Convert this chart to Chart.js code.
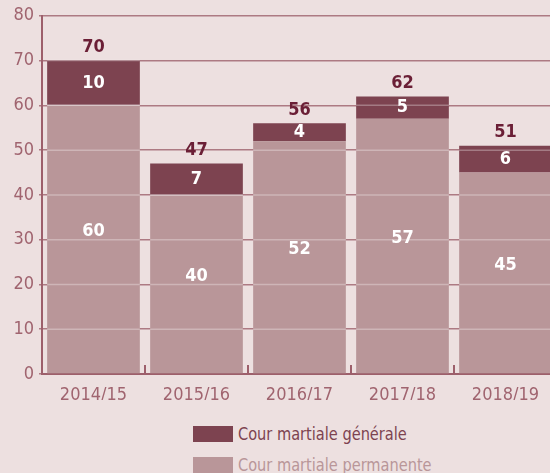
<!DOCTYPE html>
<html><head><meta charset="utf-8">
<script src="https://cdn.jsdelivr.net/npm/chart.js@4/dist/chart.umd.min.js"></script>
<style>
html,body{margin:0;padding:0;background:#ede0e0;width:550px;height:473px;overflow:hidden;}
#wrap{position:absolute;left:0;top:0;width:557px;height:400px;}
#legend{position:absolute;left:193px;top:418px;font-family:'DejaVu Sans Condensed','Liberation Sans Narrow',sans-serif;font-size:18px;}
.item{display:flex;align-items:center;height:31px;}
.sw{width:40px;height:16px;margin-right:5px;flex:none;}
.tx{display:inline-block;transform:scaleX(0.9);transform-origin:left center;white-space:nowrap;}
</style></head>
<body>
<div id="wrap"><canvas id="c"></canvas></div>
<div id="legend"></div>
<script>
const categories = ['2014/15','2015/16','2016/17','2017/18','2018/19'];
const permanente = [60, 40, 52, 57, 45];
const generale = [10, 7, 4, 5, 6];
const seriesNames = ['Cour martiale générale','Cour martiale permanente'];
const yTicks = [0,10,20,30,40,50,60,70,80];

const DARK = '#7d4350', LIGHT = '#b99699', GRID = '#ad7a83', AXIS = '#9d5f6b', TXT = '#a0646f', TOT = '#6b1f36';
const FONT = "'DejaVu Sans Condensed','Liberation Sans Narrow',sans-serif";

const legend = document.getElementById('legend');
[[seriesNames[0], DARK],[seriesNames[1], LIGHT]].forEach(([n,c])=>{
  const d=document.createElement('div');d.className='item';
  d.innerHTML='<span class="sw" style="background:'+c+'"></span><span class="tx" style="color:'+c+'">'+n+'</span>';
  legend.appendChild(d);
});

const overlayPlugin = {
  id:'overlay',
  afterDatasetsDraw(chart){
    const ctx = chart.ctx, y = chart.scales.y;
    ctx.save();
    ctx.strokeStyle = 'rgba(255,255,255,0.3)'; ctx.lineWidth = 1.5;
    chart.data.datasets.forEach((ds,di)=>{
      chart.getDatasetMeta(di).data.forEach(el=>{
        const top = Math.min(el.y, el.base), bot = Math.max(el.y, el.base);
        yTicks.forEach(v=>{
          const py = y.getPixelForValue(v);
          if (v>0 && py>=top-0.5 && py<=bot+0.5){
            ctx.beginPath(); ctx.moveTo(el.x-el.width/2, py); ctx.lineTo(el.x+el.width/2, py); ctx.stroke();
          }
        });
      });
    });
    ctx.restore();
  },
  afterDraw(chart){
    const ctx = chart.ctx;
    const x = chart.scales.x, y = chart.scales.y;
    const area = chart.chartArea;
    ctx.save();
    ctx.strokeStyle = AXIS; ctx.lineWidth = 2;
    for(let i=0;i<categories.length-1;i++){
      const px = Math.round((x.getPixelForValue(i)+x.getPixelForValue(i+1))/2);
      ctx.beginPath(); ctx.moveTo(px, area.bottom-9); ctx.lineTo(px, area.bottom); ctx.stroke();
    }
    ctx.textAlign='center'; ctx.textBaseline='middle';
    ctx.font = 'bold 18px '+FONT;
    categories.forEach((c,i)=>{
      const cx = x.getPixelForValue(i);
      const p = permanente[i], g = generale[i], t = p+g;
      ctx.fillStyle = '#ffffff';
      ctx.fillText(String(p), cx, (y.getPixelForValue(0)+y.getPixelForValue(p))/2 - 8);
      ctx.fillText(String(g), cx, (y.getPixelForValue(p)+y.getPixelForValue(t))/2);
      ctx.fillStyle = TOT;
      ctx.fillText(String(t), cx, y.getPixelForValue(t) - 13);
    });
    ctx.restore();
  }
};

new Chart(document.getElementById('c'), {
  type:'bar',
  data:{
    labels:categories,
    datasets:[
      {label:seriesNames[1], data:permanente, backgroundColor:LIGHT, barPercentage:0.9, categoryPercentage:1, stack:'s'},
      {label:seriesNames[0], data:generale, backgroundColor:DARK, barPercentage:0.9, categoryPercentage:1, stack:'s'}
    ]
  },
  options:{
    responsive:true, maintainAspectRatio:false, animation:false,
    layout:{padding:{top:14,right:0,left:0,bottom:0}},
    plugins:{legend:{display:false}, tooltip:{enabled:false}},
    scales:{
      x:{
        stacked:true,
        grid:{display:false},
        border:{display:true,color:AXIS,width:2},
        ticks:{color:TXT,font:{family:FONT,size:18},padding:3,maxRotation:0},
        afterFit(s){s.height=26;}
      },
      y:{
        stacked:true, min:0, max:80,
        afterBuildTicks(s){s.ticks = yTicks.map(v=>({value:v}));},
        grid:{color:GRID,lineWidth:1.5,tickLength:3},
        border:{display:true,color:AXIS,width:2},
        ticks:{color:TXT,font:{family:FONT,size:18},padding:5},
        afterFit(s){s.width=42;}
      }
    }
  },
  plugins:[overlayPlugin]
});
</script>
</body></html>
